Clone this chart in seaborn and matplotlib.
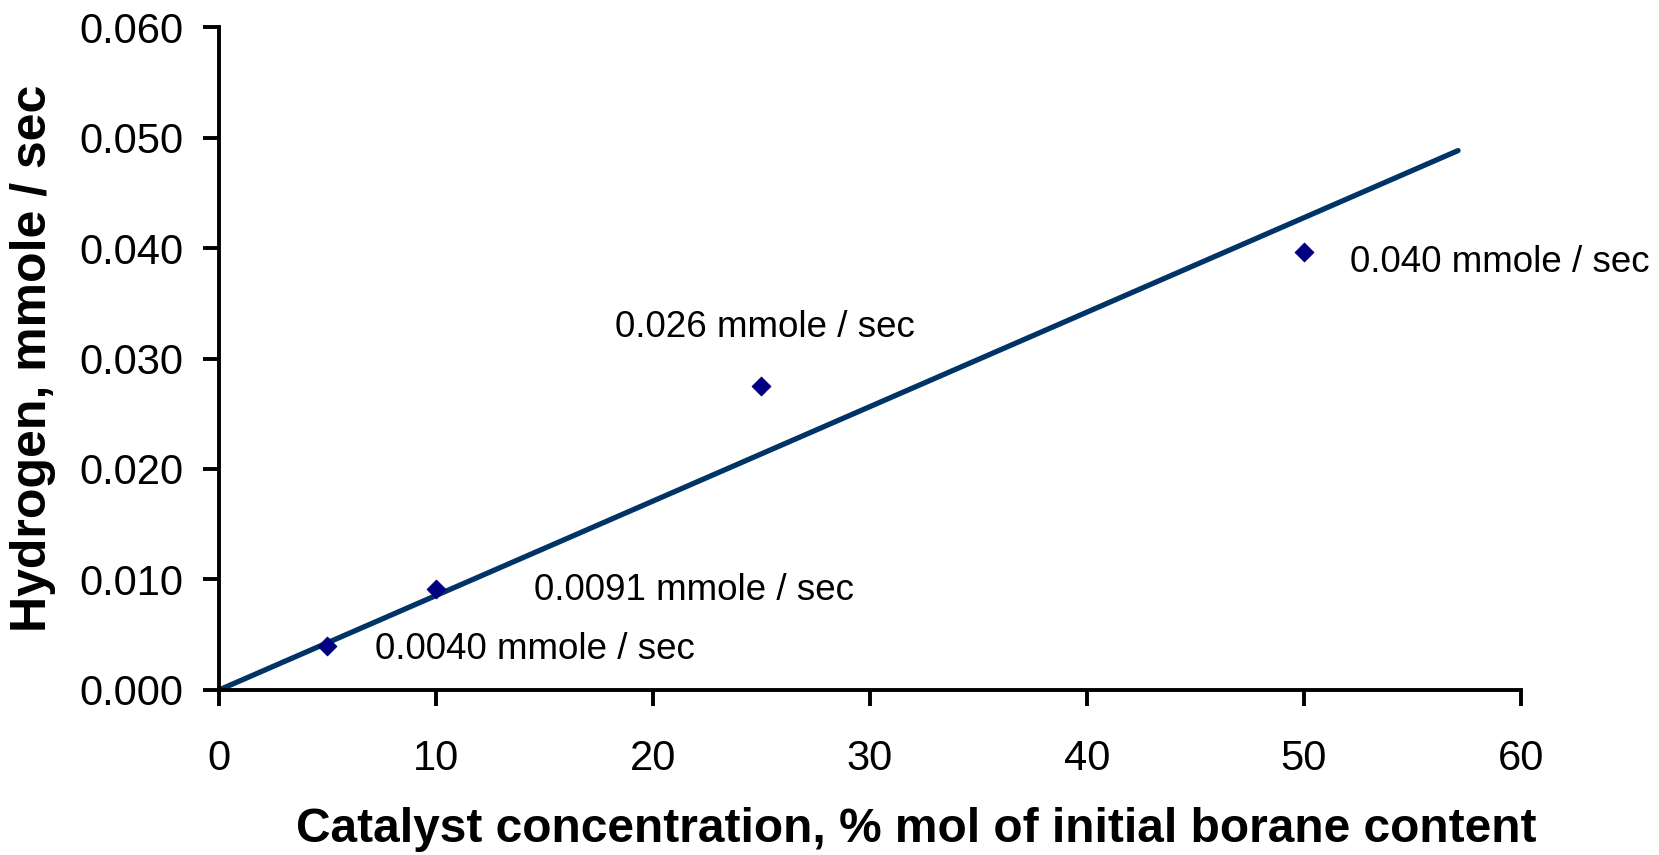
import numpy as np
import pandas as pd
import matplotlib
matplotlib.use("Agg")
import matplotlib.pyplot as plt
import seaborn as sns

# data
catalyst = [5, 10, 25, 50]
rate = [0.0040, 0.0091, 0.0275, 0.0396]
labels = ["0.0040 mmole / sec", "0.0091 mmole / sec", "0.026 mmole / sec", "0.040 mmole / sec"]
label_offsets = [(2.2, -0.0003), (4.5, -0.0001), (-6.75, 0.0053), (2.1, -0.0009)]
x_ticks = [0, 10, 20, 30, 40, 50, 60]
y_ticks = [0.000, 0.010, 0.020, 0.030, 0.040, 0.050, 0.060]
trend_end = 57.1

sns.set_theme(style="white")
plt.rcParams['font.family'] = ['Liberation Sans', 'DejaVu Sans']
plt.rcParams['text.color'] = 'black'
plt.rcParams['xtick.color'] = 'black'
plt.rcParams['ytick.color'] = 'black'

fig = plt.figure(figsize=(16.59, 8.55), dpi=100)
ax = fig.add_axes([0.132, 0.193, 0.7848, 0.7754])

df = pd.DataFrame({"x": catalyst, "y": rate})
# trendline through origin (least squares)
xa = np.array(catalyst, float); ya = np.array(rate, float)
slope = (xa * ya).sum() / (xa * xa).sum()
tl = pd.DataFrame({"x": [0, trend_end], "y": [0, slope * trend_end]})
sns.lineplot(data=tl, x="x", y="y", ax=ax, color="#003466", linewidth=3.8, zorder=2)
sns.scatterplot(data=df, x="x", y="y", ax=ax, marker="D", s=90, color="#000080",
                edgecolor="#000080", zorder=3)

for (x, y, t, (dx, dy)) in zip(catalyst, rate, labels, label_offsets):
    ax.text(x + dx, y + dy, t, fontsize=26.5, ha="left", va="center", color="black")

ax.set_xlim(0, 60)
ax.set_ylim(0, 0.060)
ax.set_xticks(x_ticks)
ax.set_yticks(y_ticks)
ax.set_xticklabels([str(v) for v in x_ticks], fontsize=30)
ax.set_yticklabels([f"{v:.3f}" for v in y_ticks], fontsize=30)
ax.set_xlabel("")
ax.set_ylabel("")
for s in ["top", "right"]:
    ax.spines[s].set_visible(False)
for s in ["left", "bottom"]:
    ax.spines[s].set_linewidth(2.8)
    ax.spines[s].set_color("black")
ax.tick_params(axis="both", direction="out", length=11.5, width=2.8, color="black",
               bottom=True, left=True, labelcolor="black")
ax.tick_params(axis="x", pad=24)
ax.tick_params(axis="y", pad=14)

fig.text(0.552, 0.004, "Catalyst concentration, % mol of initial borane content",
         ha="center", va="bottom", fontsize=34.5, fontweight="bold")
fig.text(0.02, 0.581, "Hydrogen, mmole / sec", rotation=90, ha="center", va="center",
         fontsize=36, fontweight="bold")

fig.savefig("out.png", dpi=100)
